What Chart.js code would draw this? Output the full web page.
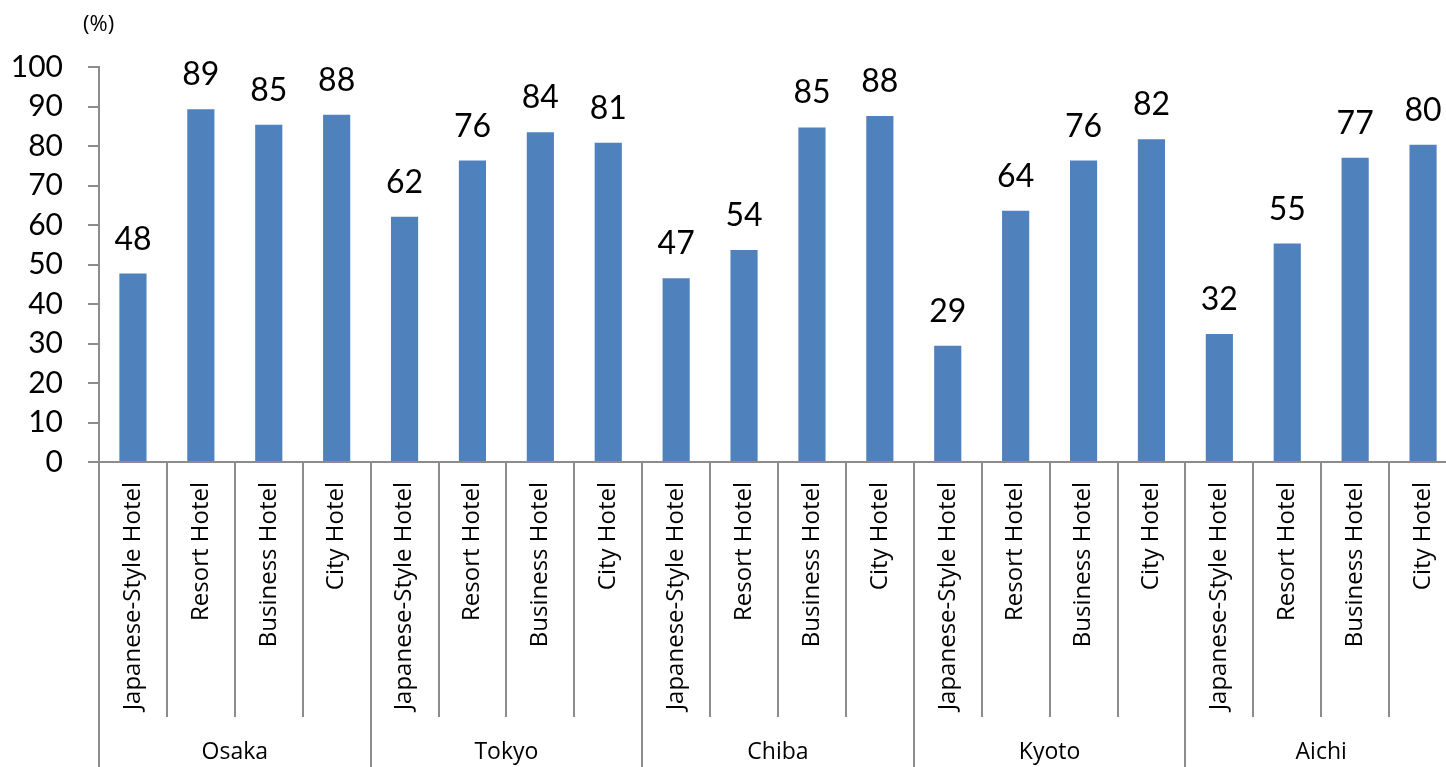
<!DOCTYPE html>
<html>
<head>
    <title>Hotel Occupancy by Prefecture</title>
    <script src="https://cdn.jsdelivr.net/npm/chart.js"></script>
    <style>
        html, body {
            margin: 0;
            padding: 0;
            background: white;
            overflow: hidden;
        }
        canvas { display: block; }
    </style>
</head>
<body>
    <canvas id="chart" width="1460" height="767"></canvas>

    <script>
        // Data
        const regions = ['Osaka', 'Tokyo', 'Chiba', 'Kyoto', 'Aichi'];
        const hotelTypes = ['Japanese-Style Hotel', 'Resort Hotel', 'Business Hotel', 'City Hotel'];
        const osaka = [47.7, 89.3, 85.4, 87.9];
        const tokyo = [62.1, 76.3, 83.5, 80.8];
        const chiba = [46.5, 53.7, 84.7, 87.6];
        const kyoto = [29.4, 63.6, 76.3, 81.7];
        const aichi = [32.4, 55.3, 77.0, 80.3];
        const yTicks = [0, 10, 20, 30, 40, 50, 60, 70, 80, 90, 100];
        const unitLabel = '(%)';

        const values = [...osaka, ...tokyo, ...chiba, ...kyoto, ...aichi];
        const labels = regions.flatMap(() => hotelTypes);

        const FONT = 'Lato, "Open Sans", sans-serif';
        const LABEL_FONT = '"Open Sans", Lato, sans-serif';
        const AXIS_GREY = '#8c8c8c';

        // Draws value labels, category separators, region names
        const extras = {
            id: 'extras',
            afterDraw(chart) {
                const ctx = chart.ctx;
                const x = chart.scales.x;
                const area = chart.chartArea;
                const step = x.getPixelForValue(1) - x.getPixelForValue(0);
                const n = labels.length;
                const tickEnd = area.bottom + 255;
                const bottom = chart.height;

                ctx.save();
                // value labels
                ctx.fillStyle = '#000';
                ctx.font = '32px ' + FONT;
                ctx.textAlign = 'center';
                ctx.textBaseline = 'alphabetic';
                const meta = chart.getDatasetMeta(0);
                meta.data.forEach((bar, i) => {
                    ctx.fillText(String(Math.round(values[i])), bar.x, bar.y - 24);
                });

                // category separators
                ctx.strokeStyle = AXIS_GREY;
                ctx.lineWidth = 2;
                for (let i = 0; i <= n; i++) {
                    const px = Math.round(x.getPixelForValue(i) - step / 2);
                    const groupEdge = i % hotelTypes.length === 0;
                    ctx.beginPath();
                    ctx.moveTo(px, area.bottom);
                    ctx.lineTo(px, groupEdge ? bottom : tickEnd);
                    ctx.stroke();
                }
                // x axis line
                ctx.beginPath();
                ctx.moveTo(area.left, area.bottom);
                ctx.lineTo(area.right, area.bottom);
                ctx.stroke();

                // region names
                ctx.font = '23px ' + LABEL_FONT;
                ctx.textBaseline = 'middle';
                regions.forEach((r, g) => {
                    const a = x.getPixelForValue(g * 4) - step / 2;
                    const b = x.getPixelForValue(g * 4 + 3) + step / 2;
                    ctx.fillText(r, (a + b) / 2, 752);
                });

                // unit
                ctx.font = '22px ' + LABEL_FONT;
                ctx.textAlign = 'left';
                ctx.fillText(unitLabel, 83, 25);
                ctx.restore();
            }
        };

        new Chart(document.getElementById('chart'), {
            type: 'bar',
            data: {
                labels: labels,
                datasets: [{
                    data: values,
                    backgroundColor: '#4f81bd',
                    categoryPercentage: 1,
                    barPercentage: 0.4
                }]
            },
            options: {
                responsive: false,
                animation: false,
                events: [],
                layout: { padding: { top: 67, right: 3, left: 0, bottom: 0 } },
                plugins: {
                    legend: { display: false },
                    tooltip: { enabled: false }
                },
                scales: {
                    x: {
                        border: { display: false },
                        grid: { display: false, drawTicks: false },
                        ticks: {
                            minRotation: 90,
                            maxRotation: 90,
                            autoSkip: false,
                            padding: 20,
                            color: '#000',
                            font: { family: LABEL_FONT, size: 24 }
                        },
                        afterFit(scale) {
                            scale.height = 305;
                            scale.paddingLeft = 0;
                            scale.paddingRight = 0;
                        }
                    },
                    y: {
                        min: 0,
                        max: 100,
                        afterBuildTicks(scale) {
                            scale.ticks = yTicks.map(v => ({ value: v }));
                        },
                        border: { color: AXIS_GREY, width: 2 },
                        grid: {
                            drawOnChartArea: false,
                            tickLength: 11,
                            color: AXIS_GREY,
                            lineWidth: 2
                        },
                        ticks: {
                            padding: 25,
                            color: '#000',
                            font: { family: FONT, size: 30 }
                        },
                        afterFit(scale) { scale.width = 99; }
                    }
                }
            },
            plugins: [extras]
        });
    </script>
</body>
</html>
